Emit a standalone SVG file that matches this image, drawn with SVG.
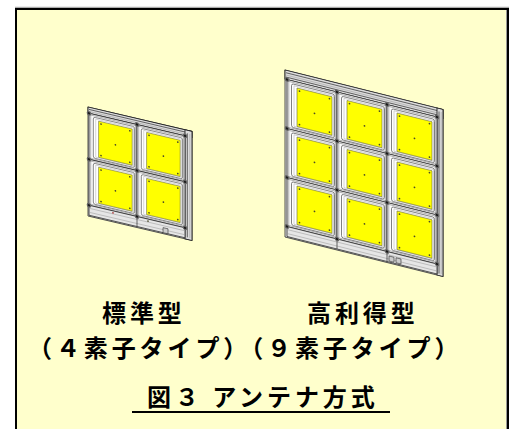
<svg xmlns="http://www.w3.org/2000/svg" xmlns:xlink="http://www.w3.org/1999/xlink" width="515" height="429" viewBox="0 0 515 429">
<style>
.c0{fill:#efefef;stroke:#333;stroke-width:0.9}
.c1{fill:#fbfbfb;stroke:#8a8a8a;stroke-width:0.6}
.c2{fill:#fff;stroke:#555;stroke-width:0.7}
.c3{fill:none;stroke:#aaa;stroke-width:0.5}
.y{fill:#ffff00;stroke:#6b6b40;stroke-width:0.6}
.d{fill:#4a4a2a}
.band{fill:#dcdcdc;stroke:#222;stroke-width:0.9}
.ln{fill:none;stroke:#333;stroke-width:0.7}
.lt{fill:none;stroke:#999;stroke-width:0.5}
.base{fill:#e6e6e6;stroke:#333;stroke-width:0.8}
.lbl{font-family:"Noto Sans CJK JP","Noto Sans CJK SC",sans-serif;font-weight:bold;font-size:24px;letter-spacing:3.9px;fill:#000}
</style>
<defs>
<g id="cell">
  <rect width="50" height="49" class="c0"/>
  <rect x="1.8" y="1.5" width="46.5" height="46" class="c1"/>
  <rect x="4.5" y="3" width="43" height="43.5" rx="2" class="c2"/>
  <rect x="7" y="4.5" width="39.5" height="40.5" class="c3"/>
  <rect x="10" y="6" width="35" height="38.5" class="y"/>
  <circle cx="12.5" cy="8.5" r="0.9" class="d"/>
  <circle cx="42.5" cy="8.5" r="0.9" class="d"/>
  <circle cx="12.5" cy="42" r="0.9" class="d"/>
  <circle cx="42.5" cy="42" r="0.9" class="d"/>
  <circle cx="27.5" cy="27" r="0.9" class="d"/>
</g>
<g id="bolt">
  <circle r="2.3" fill="#666"/>
  <circle r="1.1" fill="#1a1a1a"/>
</g>
</defs>

<g id="frame">
  <rect x="16" y="9" width="492" height="440" fill="#ffffcc" stroke="#000" stroke-width="2"/>
  <line x1="15" y1="7.3" x2="509" y2="7.3" stroke="#999" stroke-width="1"/>
  <line x1="506.5" y1="10" x2="506.5" y2="429" stroke="#999" stroke-width="1"/>
</g>

<g id="connectors"/>

<g id="antenna-standard" transform="matrix(1,0.235,0,1,88,107)">
  <rect x="0" y="0" width="104" height="109" class="base"/>
  <rect x="0" y="0" width="104" height="6" class="band"/>
  <line x1="1" y1="2.2" x2="103" y2="2.2" class="ln"/>
  <line x1="1" y1="4.2" x2="103" y2="4.2" class="lt"/>
  <rect x="97" y="0" width="7" height="109" class="band"/>
  <line x1="99.3" y1="3" x2="99.3" y2="107" class="ln"/>
  <line x1="101.8" y1="3" x2="101.8" y2="107" class="lt"/>
  <use xlink:href="#cell" transform="translate(1,6) scale(0.96,0.94)"/>
  <use xlink:href="#cell" transform="translate(49,6) scale(0.96,0.94)"/>
  <use xlink:href="#cell" transform="translate(1,52) scale(0.96,0.94)"/>
  <use xlink:href="#cell" transform="translate(49,52) scale(0.96,0.94)"/>
  <rect x="1" y="98" width="96" height="10" class="base"/>
  <line x1="1" y1="101" x2="97" y2="101" class="lt"/>
  <line x1="1" y1="105" x2="97" y2="105" class="lt"/>
  <line x1="49" y1="98" x2="49" y2="108" class="ln"/>
  <rect x="75" y="103" width="5" height="5" fill="#ccc" stroke="#333" stroke-width="0.6"/>
  <circle cx="60" cy="100" r="0.8" class="d"/>
  <circle cx="25" cy="100" r="0.8" fill="#a33"/>
  <use xlink:href="#bolt" x="1" y="6"/>
  <use xlink:href="#bolt" x="49" y="6"/>
  <use xlink:href="#bolt" x="97" y="6"/>
  <use xlink:href="#bolt" x="1" y="52"/>
  <use xlink:href="#bolt" x="49" y="52"/>
  <use xlink:href="#bolt" x="97" y="52"/>
  <use xlink:href="#bolt" x="1" y="98"/>
  <use xlink:href="#bolt" x="49" y="98"/>
  <use xlink:href="#bolt" x="97" y="98"/>
</g>

<g id="antenna-highgain" transform="matrix(1,0.25,0,1,285,70)">
  <rect x="0" y="0" width="158" height="167" class="base"/>
  <rect x="0" y="0" width="158" height="9" class="band"/>
  <line x1="1" y1="2.5" x2="157" y2="2.5" class="ln"/>
  <line x1="1" y1="4.8" x2="157" y2="4.8" class="lt"/>
  <line x1="1" y1="6.8" x2="157" y2="6.8" class="ln"/>
  <rect x="152" y="0" width="6" height="167" class="band"/>
  <line x1="154" y1="3" x2="154" y2="165" class="ln"/>
  <line x1="156.2" y1="3" x2="156.2" y2="165" class="lt"/>
  <use xlink:href="#cell" x="2" y="9"/>
  <use xlink:href="#cell" x="52" y="9"/>
  <use xlink:href="#cell" x="102" y="9"/>
  <use xlink:href="#cell" x="2" y="58"/>
  <use xlink:href="#cell" x="52" y="58"/>
  <use xlink:href="#cell" x="102" y="58"/>
  <use xlink:href="#cell" x="2" y="107"/>
  <use xlink:href="#cell" x="52" y="107"/>
  <use xlink:href="#cell" x="102" y="107"/>
  <rect x="2" y="156" width="150" height="10" class="base"/>
  <line x1="2" y1="159" x2="152" y2="159" class="lt"/>
  <line x1="2" y1="163" x2="152" y2="163" class="lt"/>
  <line x1="52" y1="156" x2="52" y2="166" class="ln"/>
  <line x1="102" y1="156" x2="102" y2="166" class="ln"/>
  <rect x="104" y="160" width="5" height="5" fill="#ccc" stroke="#333" stroke-width="0.6"/>
  <rect x="111" y="160" width="5" height="5" fill="#ccc" stroke="#333" stroke-width="0.6"/>
  <use xlink:href="#bolt" x="2" y="9"/>
  <use xlink:href="#bolt" x="52" y="9"/>
  <use xlink:href="#bolt" x="102" y="9"/>
  <use xlink:href="#bolt" x="152" y="9"/>
  <use xlink:href="#bolt" x="2" y="58"/>
  <use xlink:href="#bolt" x="52" y="58"/>
  <use xlink:href="#bolt" x="102" y="58"/>
  <use xlink:href="#bolt" x="152" y="58"/>
  <use xlink:href="#bolt" x="2" y="107"/>
  <use xlink:href="#bolt" x="52" y="107"/>
  <use xlink:href="#bolt" x="102" y="107"/>
  <use xlink:href="#bolt" x="152" y="107"/>
  <use xlink:href="#bolt" x="2" y="156"/>
  <use xlink:href="#bolt" x="52" y="156"/>
  <use xlink:href="#bolt" x="102" y="156"/>
  <use xlink:href="#bolt" x="152" y="156"/>
</g>

<g id="labels">
  <text class="lbl" x="102" y="321.5">標準型</text>
  <text class="lbl" x="307" y="321.5">高利得型</text>
  <text class="lbl" x="28" y="356.5">（４素子タイプ）（９素子タイプ）</text>
  <text class="lbl" x="147" y="406">図３ アンテナ方式</text>
  <line x1="132" y1="412" x2="390" y2="412" stroke="#000" stroke-width="2"/>
</g>
</svg>
